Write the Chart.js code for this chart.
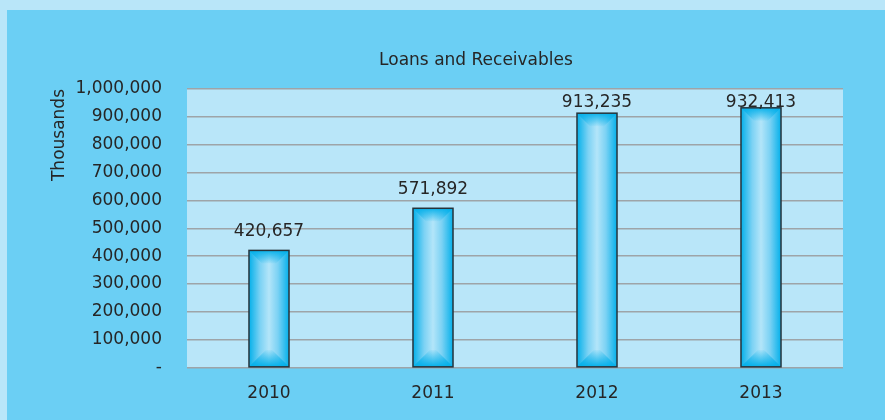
<!DOCTYPE html>
<html>
<head>
<meta charset="utf-8">
<script src="https://cdn.jsdelivr.net/npm/chart.js@4/dist/chart.umd.min.js"></script>
<style>
    html, body { margin: 0; padding: 0; }
    body { width: 885px; height: 420px; background: #b9e6f9; position: relative; overflow: hidden; }
    #panel { position: absolute; left: 7px; top: 10px; width: 878px; height: 410px; background: #6bcff4; }
    #heading {
        position: absolute; left: 369px; top: 39px; width: 200px; text-align: center;
        font: 17px "DejaVu Sans", Verdana, sans-serif; color: #262626; white-space: nowrap;
    }
    canvas { position: absolute; left: 0; top: 0; }
</style>
</head>
<body>
<div id="panel">
    <canvas id="loansChart" width="878" height="410"></canvas>
    <div id="heading">Loans and Receivables</div>
</div>
<script>
// Loans and receivables by year (thousands)
const years = ['2010', '2011', '2012', '2013'];
const loanValues = [420657, 571892, 913235, 932413];
const yTickLabels = ['-', '100,000', '200,000', '300,000', '400,000', '500,000',
    '600,000', '700,000', '800,000', '900,000', '1,000,000'];
const yStep = 100000;

const textColor = '#262626';
const fontFamily = '"DejaVu Sans", Verdana, sans-serif';

// Light fill behind the plot area
const plotBackground = {
    id: 'plotBackground',
    beforeDraw(chart) {
        const { ctx, chartArea: a } = chart;
        ctx.save();
        ctx.fillStyle = '#b9e6f9';
        ctx.fillRect(a.left, a.top, a.right - a.left, a.bottom - a.top);
        ctx.restore();
    }
};

// Bevelled cyan bars: bright edges, pale middle, darker top and bottom
const bevelBars = {
    id: 'bevelBars',
    afterDatasetsDraw(chart) {
        const { ctx } = chart;
        const meta = chart.getDatasetMeta(0);
        ctx.save();
        meta.data.forEach(bar => {
            const x0 = bar.x - bar.width / 2;
            const x1 = bar.x + bar.width / 2;
            const y0 = Math.min(bar.y, bar.base);
            const y1 = Math.max(bar.y, bar.base);
            const d = Math.min(13, (y1 - y0) / 2);

            const side = ctx.createLinearGradient(x0, 0, x1, 0);
            side.addColorStop(0, '#04b0ea');
            side.addColorStop(0.28, '#7cd2f4');
            side.addColorStop(0.5, '#b3e5f9');
            side.addColorStop(0.72, '#7cd2f4');
            side.addColorStop(1, '#04b0ea');
            ctx.fillStyle = side;
            ctx.fillRect(x0, y0, x1 - x0, y1 - y0);

            const top = ctx.createLinearGradient(0, y0, 0, y0 + d);
            top.addColorStop(0, 'rgba(4,176,234,0.95)');
            top.addColorStop(1, 'rgba(4,176,234,0.05)');
            ctx.fillStyle = top;
            ctx.beginPath();
            ctx.moveTo(x0, y0); ctx.lineTo(x1, y0);
            ctx.lineTo(x1 - d, y0 + d); ctx.lineTo(x0 + d, y0 + d);
            ctx.closePath(); ctx.fill();

            const b = d * 1.3;
            const bottom = ctx.createLinearGradient(0, y1, 0, y1 - b);
            bottom.addColorStop(0, 'rgba(4,176,234,1)');
            bottom.addColorStop(1, 'rgba(4,176,234,0.05)');
            ctx.fillStyle = bottom;
            ctx.beginPath();
            ctx.moveTo(x0, y1); ctx.lineTo(x1, y1);
            ctx.lineTo(x1 - b, y1 - b); ctx.lineTo(x0 + b, y1 - b);
            ctx.closePath(); ctx.fill();

            ctx.strokeStyle = '#26343c';
            ctx.lineWidth = 1.5;
            ctx.strokeRect(x0, y0, x1 - x0, y1 - y0);
        });
        ctx.restore();
    }
};

// Value labels above each bar, kept inside the plot area
const valueLabels = {
    id: 'valueLabels',
    afterDatasetsDraw(chart) {
        const { ctx, chartArea } = chart;
        const meta = chart.getDatasetMeta(0);
        ctx.save();
        ctx.font = '17px ' + fontFamily;
        ctx.fillStyle = textColor;
        ctx.textAlign = 'center';
        ctx.textBaseline = 'middle';
        meta.data.forEach((bar, i) => {
            const y = Math.max(bar.y - 19, chartArea.top + 14);
            ctx.fillText(loanValues[i].toLocaleString('en-US'), bar.x, y);
        });
        ctx.restore();
    }
};

new Chart(document.getElementById('loansChart').getContext('2d'), {
    type: 'bar',
    data: {
        labels: years,
        datasets: [{
            label: 'Loans and Receivables',
            data: loanValues,
            backgroundColor: '#04b0ea',
            borderWidth: 0,
            barPercentage: 0.244,
            categoryPercentage: 1
        }]
    },
    options: {
        responsive: false,
        animation: false,
        layout: {
            padding: { left: 38, right: 42, top: 79, bottom: 0 }
        },
        plugins: {
            legend: { display: false },
            tooltip: { enabled: false },
            title: { display: false }
        },
        scales: {
            x: {
                grid: { display: false, drawTicks: false },
                border: { display: false },
                ticks: {
                    color: textColor,
                    padding: 16,
                    font: { family: fontFamily, size: 17 }
                }
            },
            y: {
                min: 0,
                max: 1000000,
                border: { display: false },
                grid: {
                    color: '#9ea4a8',
                    lineWidth: 1.5,
                    drawTicks: false
                },
                ticks: {
                    stepSize: yStep,
                    color: textColor,
                    padding: 25,
                    font: { family: fontFamily, size: 17 },
                    callback: value => yTickLabels[Math.round(value / yStep)]
                },
                title: {
                    display: true,
                    text: 'Thousands',
                    align: 'end',
                    color: textColor,
                    padding: { top: 4, bottom: 10 },
                    font: { family: fontFamily, size: 17 }
                },
                afterFit: scale => { scale.width = 142; }
            }
        }
    },
    plugins: [plotBackground, bevelBars, valueLabels]
});
</script>
</body>
</html>
